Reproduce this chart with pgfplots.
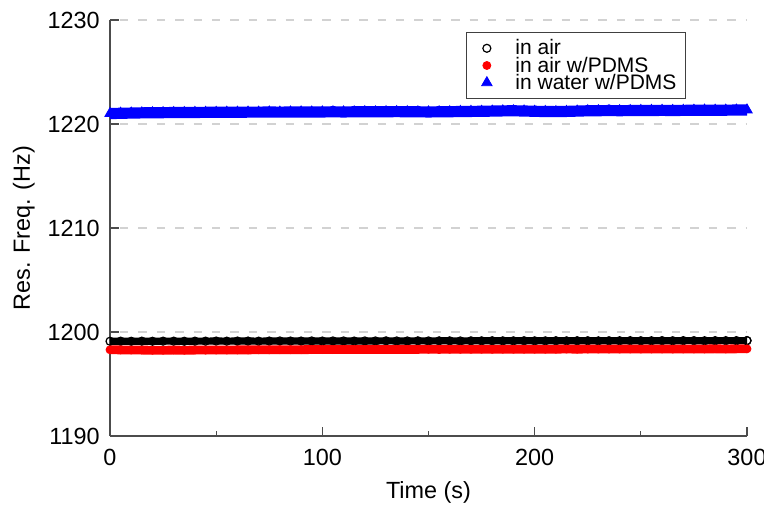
\documentclass[border=0pt]{standalone}
\usepackage{fontspec}
\setmainfont{Liberation Sans}
\usepackage{pgfplots}
\pgfplotsset{compat=1.18}
\begin{document}
\begin{tikzpicture}
\useasboundingbox (-55pt,-35pt) rectangle (327pt,218pt);
\begin{axis}[
 scale only axis, width=318.5pt, height=208pt,
 xmin=0, xmax=300, ymin=1190, ymax=1230,
 clip=false,
 axis x line*=bottom, axis y line*=left,
 axis line style={black!70, line width=0.6pt},
 every tick/.style={black!70, line width=0.6pt},
 tick align=inside,
 major tick length=4.5pt, minor tick length=2.6pt,
 xtick={0,100,200,300}, minor xtick={50,150,250},
 ytick={1190,1200,1210,1220,1230},
 ymajorgrids,
 major grid style={gray!35, line width=0.6pt, dash pattern=on 4.2pt off 5pt, dash phase=4.2pt},
 tick label style={font=\fontsize{11.7}{14}\selectfont},
 /pgf/number format/assume math mode=true,
 /pgf/number format/1000 sep={},
 x tick label style={yshift=-3pt},
 y tick label style={xshift=-1.6pt},
 xlabel={Time (s)}, ylabel={Res. Freq. (Hz)},
 label style={font=\fontsize{11.7}{14}\selectfont},
 xlabel style={at={(axis description cs:0.5,-0.15)}, anchor=base},
 ylabel style={at={(axis description cs:-0.1256,0.5)}, anchor=base},
 legend style={at={(axis description cs:1,1)}, anchor=north east, xshift=-30.5pt, yshift=-6pt,
   draw=black!75, line width=0.5pt, inner xsep=4.5pt, inner ysep=3.6pt, row sep=0pt,
   font=\fontsize{10.5}{10.5}\selectfont,
   nodes={inner sep=0pt, text height=7.6pt, text depth=1.0pt}},
 legend cell align=left,
 legend image code/.code={\path (0pt,0pt) (14.5pt,0pt); \draw[#1,/tikz/only marks] plot coordinates {(3pt,0pt)};},
]
\addplot[black, line width=3.6pt, mark=o, mark size=2pt, mark options={line width=0.6pt, solid}] coordinates {
(0,1199.11)(5,1199.12)(10,1199.11)(15,1199.12)(20,1199.11)(25,1199.12)(30,1199.12)(35,1199.11)(40,1199.12)(45,1199.12)
(50,1199.13)(55,1199.12)(60,1199.13)(65,1199.13)(70,1199.12)(75,1199.13)(80,1199.14)(85,1199.13)(90,1199.13)(95,1199.14)
(100,1199.13)(105,1199.14)(110,1199.14)(115,1199.13)(120,1199.14)(125,1199.14)(130,1199.15)(135,1199.14)(140,1199.14)(145,1199.15)
(150,1199.14)(155,1199.15)(160,1199.15)(165,1199.14)(170,1199.15)(175,1199.15)(180,1199.16)(185,1199.15)(190,1199.15)(195,1199.16)
(200,1199.15)(205,1199.15)(210,1199.16)(215,1199.15)(220,1199.16)(225,1199.16)(230,1199.15)(235,1199.16)(240,1199.16)(245,1199.17)
(250,1199.16)(255,1199.16)(260,1199.17)(265,1199.16)(270,1199.17)(275,1199.17)(280,1199.16)(285,1199.17)(290,1199.17)(295,1199.17)
(300,1199.17)};
\addlegendentry{in air}
\addplot[forget plot, only marks, black, mark=o, mark size=2pt, mark options={line width=0.6pt, fill=white}] coordinates {(300,1199.17)};
\addplot[red, line width=4.4pt, mark=*, mark size=2pt, mark options={line width=0.4pt, fill=red, solid}] coordinates {
(0,1198.29)(5,1198.28)(10,1198.27)(15,1198.26)(20,1198.25)(25,1198.25)(30,1198.26)(35,1198.25)(40,1198.26)(45,1198.26)
(50,1198.27)(55,1198.27)(60,1198.28)(65,1198.28)(70,1198.29)(75,1198.29)(80,1198.30)(85,1198.30)(90,1198.30)(95,1198.31)
(100,1198.31)(105,1198.31)(110,1198.32)(115,1198.32)(120,1198.32)(125,1198.33)(130,1198.32)(135,1198.33)(140,1198.33)(145,1198.33)
(150,1198.34)(155,1198.33)(160,1198.34)(165,1198.34)(170,1198.34)(175,1198.35)(180,1198.34)(185,1198.35)(190,1198.35)(195,1198.35)
(200,1198.35)(205,1198.35)(210,1198.35)(215,1198.36)(220,1198.35)(225,1198.36)(230,1198.36)(235,1198.36)(240,1198.36)(245,1198.37)
(250,1198.36)(255,1198.37)(260,1198.37)(265,1198.36)(270,1198.37)(275,1198.37)(280,1198.37)(285,1198.38)(290,1198.37)(295,1198.38)
(300,1198.38)};
\addlegendentry{in air w/PDMS}
\addplot[blue, line width=5.6pt, mark=triangle*, mark size=3pt, mark options={line width=0.4pt, fill=blue, solid}] coordinates {
(0,1221.00)(5,1221.03)(10,1221.05)(15,1221.07)(20,1221.08)(25,1221.09)(30,1221.10)(35,1221.10)(40,1221.11)(45,1221.12)
(50,1221.12)(55,1221.13)(60,1221.13)(65,1221.14)(70,1221.14)(75,1221.15)(80,1221.14)(85,1221.15)(90,1221.16)(95,1221.15)
(100,1221.16)(105,1221.17)(110,1221.16)(115,1221.17)(120,1221.18)(125,1221.17)(130,1221.18)(135,1221.19)(140,1221.18)(145,1221.17)
(150,1221.16)(155,1221.17)(160,1221.18)(165,1221.20)(170,1221.21)(175,1221.22)(180,1221.24)(185,1221.26)(190,1221.27)(195,1221.25)
(200,1221.22)(205,1221.20)(210,1221.19)(215,1221.21)(220,1221.24)(225,1221.27)(230,1221.28)(235,1221.29)(240,1221.28)(245,1221.29)
(250,1221.30)(255,1221.30)(260,1221.31)(265,1221.30)(270,1221.31)(275,1221.32)(280,1221.33)(285,1221.32)(290,1221.33)(295,1221.34)
(300,1221.35)};
\addlegendentry{in water w/PDMS}
\end{axis}
\end{tikzpicture}
\end{document}
